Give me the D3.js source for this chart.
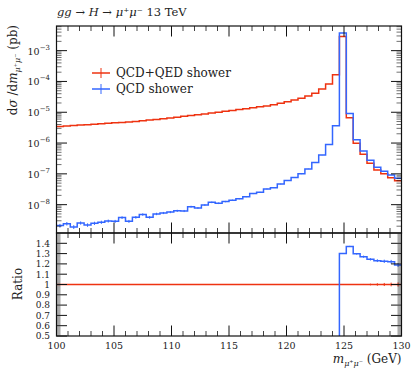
<!DOCTYPE html>
<html><head><meta charset="utf-8">
<script src="https://cdn.jsdelivr.net/npm/d3@7"></script>
<style>
body{margin:0;background:#fff;}
svg{display:block;font-family:"DejaVu Serif",serif;}
</style></head><body>
<script>
// ---- data ----
const binEdges = [100,100.6,101.2,101.8,102.4,103,103.6,104.2,104.8,105.4,106,106.6,107.2,107.8,108.4,109,109.6,110.2,110.8,111.4,112,112.6,113.2,113.8,114.4,115,115.6,116.2,116.8,117.4,118,118.6,119.2,119.8,120.4,121,121.6,122.2,122.8,123.4,124,124.6,125.2,125.8,126.4,127,127.6,128.2,128.8,129.4,130];
const qcdQedShower = [3.47e-6,3.58e-6,3.70e-6,3.82e-6,3.94e-6,4.07e-6,4.22e-6,4.37e-6,4.52e-6,4.68e-6,
4.84e-6,5.01e-6,5.27e-6,5.56e-6,5.86e-6,6.19e-6,6.55e-6,6.93e-6,7.35e-6,7.80e-6,
8.28e-6,8.81e-6,9.38e-6,1.00e-5,1.07e-5,1.14e-5,1.22e-5,1.31e-5,1.40e-5,1.50e-5,
1.61e-5,1.76e-5,1.96e-5,2.21e-5,2.51e-5,2.85e-5,3.39e-5,4.14e-5,5.71e-5,8.30e-5,
1.65e-4,2.90e-3,6.68e-6,9.86e-7,4.33e-7,2.21e-7,1.34e-7,1.00e-7,7.53e-8,6.01e-8];
const qcdShower = [2.09e-9,2.42e-9,1.89e-9,2.55e-9,2.19e-9,2.49e-9,2.69e-9,2.95e-9,2.88e-9,3.80e-9,
2.88e-9,3.89e-9,4.79e-9,3.89e-9,5.01e-9,5.37e-9,5.75e-9,6.31e-9,6.24e-9,8.61e-9,
7.82e-9,9.77e-9,1.19e-8,1.11e-8,1.26e-8,1.39e-8,1.57e-8,1.82e-8,2.29e-8,2.51e-8,
3.24e-8,3.57e-8,4.68e-8,6.03e-8,7.59e-8,1.00e-7,1.45e-7,2.34e-7,4.07e-7,9.02e-7,
3.63e-6,3.77e-3,9.15e-6,1.28e-6,5.50e-7,2.75e-7,1.65e-7,1.225e-7,9.19e-8,7.15e-8];
// relative uncertainties
const qcdQedErr = [0.002,0.002,0.002,0.002,0.002,0.002,0.002,0.002,0.002,0.002,
0.002,0.002,0.002,0.002,0.002,0.002,0.002,0.002,0.002,0.002,
0.002,0.002,0.002,0.002,0.002,0.002,0.002,0.002,0.002,0.002,
0.002,0.002,0.002,0.002,0.002,0.002,0.002,0.002,0.002,0.002,
0.001,0.001,0.002,0.003,0.005,0.008,0.012,0.015,0.018,0.02];
const qcdErr = [0.14,0.13,0.14,0.12,0.13,0.12,0.12,0.11,0.11,0.10,
0.11,0.10,0.09,0.10,0.09,0.08,0.08,0.08,0.08,0.07,
0.07,0.06,0.06,0.06,0.05,0.05,0.05,0.04,0.04,0.04,
0.035,0.03,0.03,0.025,0.02,0.02,0.015,0.012,0.01,0.008,
0.005,0.002,0.004,0.006,0.008,0.009,0.011,0.013,0.015,0.016];
const xMajorTicks = [100,105,110,115,120,125,130];
const xTickLabels = ["100","105","110","115","120","125","130"];
const yDecades = [1e-8,1e-7,1e-6,1e-5,1e-4,1e-3];
const yDecadeExps = ["−8","−7","−6","−5","−4","−3"];
const ratioTicks = [0.5,0.6,0.7,0.8,0.9,1.0,1.1,1.2,1.3,1.4];
const ratioLabels = ["0.5","0.6","0.7","0.8","0.9","1","1.1","1.2","1.3","1.4"];
const seriesNames = ["QCD+QED shower","QCD shower"];
const seriesColors = ["#EE3311","#3366FF"];

// ---- layout ----
const W=411,H=371;
const L=56.5,R=401.5,T=26,MID=233,B=336;
const MAJ=10.5, MIN=5;

const svg = d3.select("body").append("svg").attr("width",W).attr("height",H);
const x = d3.scaleLinear().domain([100,130]).range([L,R]);
const y = d3.scaleLog().domain([Math.pow(10,-8.92),Math.pow(10,-2.2)]).range([MID,T]);
const yr = d3.scaleLinear().domain([0.5,1.5]).range([B,MID]);

const defs = svg.append("defs");
defs.append("clipPath").attr("id","cTop").append("rect").attr("x",L).attr("y",T).attr("width",R-L).attr("height",MID-T);
defs.append("clipPath").attr("id","cBot").append("rect").attr("x",L).attr("y",MID).attr("width",R-L).attr("height",B-MID);

function stepPts(vals){const p=[];vals.forEach((v,i)=>{p.push([binEdges[i],v]);p.push([binEdges[i+1],v]);});return p;}
const centers = binEdges.slice(0,-1).map((e,i)=>(e+binEdges[i+1])/2);

// ---- top panel data ----
const gTop = svg.append("g").attr("clip-path","url(#cTop)");
const lineTop = d3.line().x(d=>x(d[0])).y(d=>y(d[1]));
[[qcdQedShower,qcdQedErr,0],[qcdShower,qcdErr,1]].forEach(([vals,errs,k])=>{
  gTop.append("path").attr("d",lineTop(stepPts(vals))).attr("fill","none")
    .attr("stroke",seriesColors[k]).attr("stroke-width",1.5);
  gTop.selectAll(null).data(vals).enter().append("line")
    .attr("x1",(d,i)=>x(centers[i])).attr("x2",(d,i)=>x(centers[i]))
    .attr("y1",(d,i)=>y(d*(1-errs[i]))).attr("y2",(d,i)=>y(d*(1+errs[i])))
    .attr("stroke",seriesColors[k]).attr("stroke-width",1);
});

// ---- ratio panel data ----
const gBot = svg.append("g").attr("clip-path","url(#cBot)");
const lineBot = d3.line().x(d=>x(d[0])).y(d=>yr(d[1]));
const ratioRed = qcdQedShower.map(()=>1);
const ratioBlue = qcdShower.map((v,i)=>v/qcdQedShower[i]);
[[ratioRed,qcdQedErr,0],[ratioBlue,qcdErr,1]].forEach(([vals,errs,k])=>{
  gBot.append("path").attr("d",lineBot(stepPts(vals))).attr("fill","none")
    .attr("stroke",seriesColors[k]).attr("stroke-width",1.5);
  gBot.selectAll(null).data(vals).enter().append("line")
    .attr("x1",(d,i)=>x(centers[i])).attr("x2",(d,i)=>x(centers[i]))
    .attr("y1",(d,i)=>yr(d*(1-errs[i]))).attr("y2",(d,i)=>yr(d*(1+errs[i])))
    .attr("stroke",seriesColors[k]).attr("stroke-width",1);
});

// ---- ticks ----
const gAx = svg.append("g").attr("stroke","#111").attr("fill","none");
const xMinor = d3.range(100,131,1).filter(v=>xMajorTicks.indexOf(v)<0);
function xTicksAt(yy,dir){
  xMajorTicks.forEach(v=>gAx.append("line").attr("x1",x(v)).attr("x2",x(v)).attr("y1",yy).attr("y2",yy+dir*MAJ).attr("stroke-width",1));
  xMinor.forEach(v=>gAx.append("line").attr("x1",x(v)).attr("x2",x(v)).attr("y1",yy).attr("y2",yy+dir*MIN).attr("stroke-width",0.8));
}
xTicksAt(T,1); xTicksAt(MID,-1); xTicksAt(MID,1); xTicksAt(B,-1);
const logMinor = y.ticks().filter(v=>yDecades.indexOf(v)<0 && Math.abs(Math.log10(v)-Math.round(Math.log10(v)))>1e-6);
function yTicksLog(xx,dir){
  yDecades.forEach(v=>gAx.append("line").attr("x1",xx).attr("x2",xx+dir*MAJ).attr("y1",y(v)).attr("y2",y(v)).attr("stroke-width",1));
  logMinor.forEach(v=>gAx.append("line").attr("x1",xx).attr("x2",xx+dir*MIN).attr("y1",y(v)).attr("y2",y(v)).attr("stroke-width",0.6));
}
yTicksLog(L,1); yTicksLog(R,-1);
const rMinor = d3.range(50,151,1).map(v=>v/100).filter(v=>Math.abs(v*10-Math.round(v*10))>1e-6);
function yTicksRatio(xx,dir){
  ratioTicks.forEach(v=>gAx.append("line").attr("x1",xx).attr("x2",xx+dir*MAJ).attr("y1",yr(v)).attr("y2",yr(v)).attr("stroke-width",1));
  rMinor.forEach(v=>gAx.append("line").attr("x1",xx).attr("x2",xx+dir*4).attr("y1",yr(v)).attr("y2",yr(v)).attr("stroke-width",0.4));
}
yTicksRatio(L,1); yTicksRatio(R,-1);

// frames
svg.append("rect").attr("x",L).attr("y",T).attr("width",R-L).attr("height",MID-T).attr("fill","none").attr("stroke","#111").attr("stroke-width",1.2);
svg.append("rect").attr("x",L).attr("y",MID).attr("width",R-L).attr("height",B-MID).attr("fill","none").attr("stroke","#111").attr("stroke-width",1.2);

// ---- labels ----
const txt = svg.append("g").attr("fill","#222");
xMajorTicks.forEach((v,i)=>txt.append("text").attr("x",x(v)).attr("y",349).attr("text-anchor","middle").attr("font-size",9.5).text(xTickLabels[i]));
yDecades.forEach((v,i)=>{
  const t = txt.append("text").attr("x",50).attr("y",y(v)+4).attr("text-anchor","end").attr("font-size",9.5);
  t.append("tspan").text("10");
  t.append("tspan").attr("dy",-5).attr("font-size",7).text(yDecadeExps[i]);
});
ratioTicks.forEach((v,i)=>txt.append("text").attr("x",50).attr("y",yr(v)+3.3).attr("text-anchor","end").attr("font-size",9).text(ratioLabels[i]));

// title
const title = txt.append("text").attr("x",57).attr("y",16).attr("font-size",11.5);
title.append("tspan").attr("font-style","italic").text("gg");
title.append("tspan").text(" → ");
title.append("tspan").attr("font-style","italic").text("H");
title.append("tspan").text(" → ");
title.append("tspan").attr("font-style","italic").text("μ⁺μ⁻");
title.append("tspan").text(" 13 TeV");

// y label
const yl = txt.append("text").attr("transform","translate(17,25) rotate(-90)").attr("text-anchor","end").attr("font-size",12);
yl.append("tspan").text("d");
yl.append("tspan").attr("font-style","italic").text("σ");
yl.append("tspan").text(" /d");
yl.append("tspan").attr("font-style","italic").text("m");
yl.append("tspan").attr("dy",3).attr("font-size",8).attr("font-style","italic").text("μ⁺μ⁻");
yl.append("tspan").attr("dy",-3).text(" (pb)");

txt.append("text").attr("transform","translate(22,284) rotate(-90)").attr("text-anchor","middle").attr("font-size",12).text("Ratio");

// x label
const xl = txt.append("text").attr("x",401.5).attr("y",363).attr("text-anchor","end").attr("font-size",12);
xl.append("tspan").attr("font-style","italic").text("m");
xl.append("tspan").attr("dy",3).attr("font-size",8).attr("font-style","italic").text("μ⁺μ⁻");
xl.append("tspan").attr("dy",-3).text(" (GeV)");

// legend
const legY = [73,89];
seriesNames.forEach((n,k)=>{
  const g = svg.append("g");
  g.append("line").attr("x1",92).attr("x2",110).attr("y1",legY[k]).attr("y2",legY[k]).attr("stroke",seriesColors[k]).attr("stroke-width",1.5);
  g.append("line").attr("x1",101).attr("x2",101).attr("y1",legY[k]-5).attr("y2",legY[k]+5).attr("stroke",seriesColors[k]).attr("stroke-width",1);
  g.append("text").attr("x",116).attr("y",legY[k]+4).attr("font-size",12).attr("fill","#222").text(n);
});
</script>
</body></html>
